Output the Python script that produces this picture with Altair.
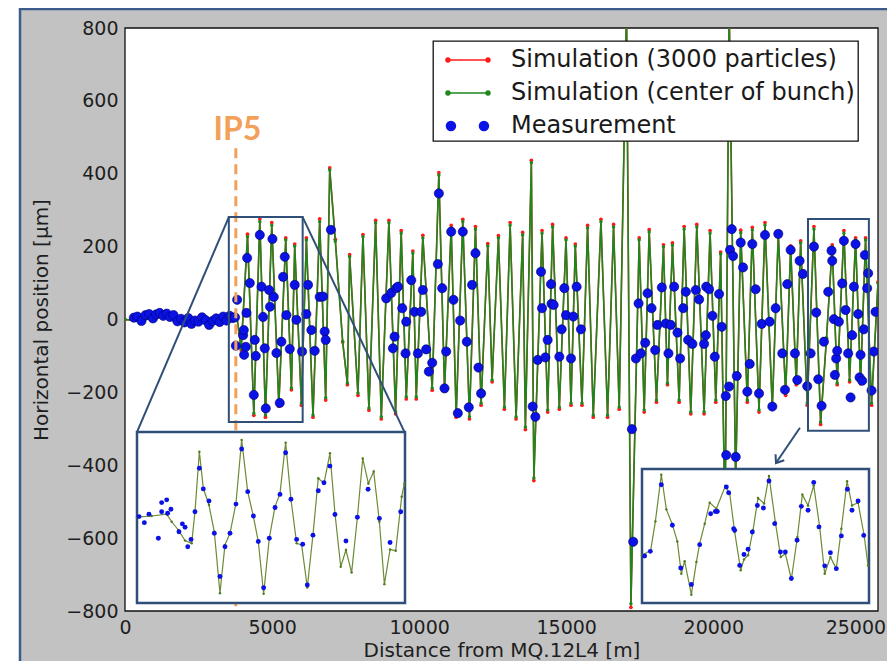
import altair as alt
import pandas as pd

SERIES = ["Simulation (3000 particles)", "Simulation (center of bunch)", "Measurement"]

# ---------------- main plot data ----------------
sim_x = [0, 500, 1000, 1500, 2000, 2500, 3000, 3400, 3800,
         3950, 4165, 4380, 4583, 4775, 4990, 5230, 5465, 5658, 5770,
         5997, 6166, 6392, 6619, 6823, 6960, 7150, 7400, 7560, 7637,
         7920, 8090, 8293, 8520, 8713, 8972, 9199, 9390, 9562, 9786,
         9902, 10126, 10444, 10670, 10863, 11090, 11259, 11484, 11711, 11915,
         12107, 12333, 12481, 12695, 12899, 13093, 13296, 13520, 13612, 13815,
         13900, 14178, 14370, 14538, 14766, 14993, 15163, 15309, 15536, 15727,
         15920, 16181, 16406, 16610, 16802, 17050, 17200, 17481, 17651, 17821,
         18068, 18307, 18442, 18612, 18839, 19009, 19236, 19440, 19688, 19891,
         20085, 20250, 20400, 20540, 20760, 20933, 21157, 21327, 21555, 21758,
         22007, 22210, 22461, 22630, 22821, 22970, 23194, 23422, 23649, 23850,
         24044, 24213, 24440, 24634, 24837, 25007, 25177, 25380, 25600]
sim_center_y = [0, -4, 5, 8, 3, -3, 2, -2, 10,
                -80, 227, -257, 268, -262, 259, -232, 218, -188, 201,
                -229, 218, -262, 268, -215, 410, 215, -60, -174, 172,
                -202, 227, -243, 265, -267, 265, -253, 237, -212, 182,
                -212, 224, -188, 396, -189, 251, -262, 268, -267, 248,
                -229, 202, -166, 224, -240, 259, -267, 232, -295, 430,
                -435, 237, -248, 254, -240, 218, -229, 201, -229, 251,
                -262, 268, -262, 254, -240, 850, -780, 218, -248, 240,
                -221, 199, -174, 204, -221, 248, -253, 254, -253, 237,
                -221, 180, -560, 850, -440, 238, -221, 246, -248, 259,
                -240, 232, -202, 196, -174, 210, -229, 248, -281, -50,
                199, -174, 237, -166, 218, -171, 218, -229, 100]
sim_3000_y = [0, -4, 5, 8, 3, -3, 2, -2, 10,
              -84, 234, -263, 276, -268, 266, -238, 224, -193, 207,
              -235, 224, -268, 276, -221, 416, 220, -62, -179, 178,
              -208, 233, -249, 272, -273, 272, -259, 244, -218, 188,
              -218, 231, -194, 403, -195, 258, -268, 275, -273, 255,
              -235, 208, -171, 230, -246, 266, -273, 239, -302, 437,
              -442, 244, -254, 261, -246, 224, -235, 207, -235, 258,
              -268, 275, -268, 261, -246, 860, -790, 224, -254, 247,
              -227, 205, -179, 210, -227, 255, -259, 261, -259, 244,
              -227, 185, -570, 860, -450, 245, -227, 253, -254, 266,
              -246, 239, -208, 202, -179, 216, -235, 255, -288, -52,
              205, -179, 244, -171, 224, -176, 224, -235, 103]

meas_x = [300, 420, 560, 700, 820, 950, 1060, 1180, 1300, 1420,
          1530, 1650, 1780, 1900, 2020, 2150, 2260, 2380, 2500, 2620,
          2740, 2860, 2980, 3100, 3220, 3340, 3450, 3560, 3660, 3740,
          3768, 3813, 4016, 4039, 4050, 4107, 4131, 4152, 4243, 4379,
          4413, 4447, 4583, 4640, 4695, 4752, 4786, 4899, 4930, 5013,
          5058, 5148, 5261, 5318, 5374, 5431, 5488, 5601, 5770, 5828,
          6019, 6166, 6222, 6336, 6450, 6619, 6732, 6789, 6823, 7000,
          8881, 9053, 9109, 9165, 9222, 9280, 9425, 9538, 9561, 9732,
          9844, 9957, 10071, 10126, 10240, 10330, 10444, 10636, 10670, 10783,
          10863, 10919, 11090, 11167, 11315, 11395, 11484, 11620, 11688, 11800,
          11915, 12016, 12107, 13860, 13951, 14030, 14144, 14178, 14291, 14369,
          14484, 14500, 14573, 14766, 14845, 14936, 14993, 15163, 15241, 15354,
          15502, 17234, 17278, 17370, 17460, 17539, 17686, 17766, 17900, 18024,
          18103, 18251, 18386, 18476, 18556, 18670, 18783, 18873, 18976, 19067,
          19144, 19291, 19406, 19518, 19688, 19746, 19760, 19858, 19971, 20051,
          20197, 20288, 20424, 20440, 20537, 20570, 20628, 20672, 20764, 20798,
          20933, 21011, 21157, 21239, 21327, 21440, 21555, 21647, 21758, 21918,
          22007, 22120, 22210, 22346, 22437, 22516, 22630, 22776, 22856, 22935,
          23048, 23194, 23309, 23422, 23500, 23569, 23682, 23761, 23908, 24020,
          24044, 24100, 24134, 24179, 24213, 24270, 24383, 24440, 24498, 24586,
          24668, 24722, 24780, 24837, 24926, 24973, 25007, 25062, 25119, 25153,
          25232, 25265, 25380, 25458, 25516]
meas_y = [5, 8, -4, 12, 15, 3, 14, 18, 10, 16,
          7, 12, -5, 2, -8, 4, -12, -3, -6, 6,
          -2, -15, -4, 3, -7, 8, -3, 10, 4, 6,
          -72, 54, -43, -29, -97, -75, 18, 169, 100, -207,
          -56, -100, 232, 90, 7, -79, -244, 81, 35, 221,
          62, -92, -229, -61, 117, 172, 12, -81, 95, -1,
          -88, 15, 95, -29, -86, 62, 63, -33, -56, 246,
          58, 73, -79, -47, 86, 90, 31, -93, -6, 108,
          21, -93, 21, 81, -82, -143, -119, 152, 346, 86,
          -189, -88, 241, 54, -257, -3, 241, -61, -241, 95,
          182, -132, -203, -239, -267, -111, 131, 31, -104, -56,
          97, 43, 40, -102, -27, 86, 12, -107, 8, 90,
          -27, -301, -610, -107, 44, -93, -64, 72, 31, -84,
          -15, 88, -11, -93, -15, 90, -36, -107, 31, 76,
          -56, -67, 81, 55, -67, -43, 90, 83, 10, -102,
          70, -20, -210, -372, -184, 191, 248, 174, -377, -155,
          211, 143, -198, -122, 207, 83, -203, -12, 232, -6,
          -239, 31, 235, -93, -193, 97, 191, -93, -166, 161,
          125, -183, -93, 200, 19, -164, -237, -61, 76, 189,
          161, 1, -152, -107, -86, -6, 99, 216, 26, -93,
          -214, -43, 90, 207, 15, -159, -97, -168, -27, 177,
          86, 127, -195, -88, 21]

x_ticks = [0, 5000, 10000, 15000, 20000, 25000]
y_ticks = [-800, -600, -400, -200, 0, 200, 400, 600, 800]

ip5_x = [3768]
ip5_top = [470]
ip5_bottom = [-800]
ip5_label = ["IP5"]
ip5_label_x = [3819]
ip5_label_y = [493]

# zoom boxes in the main plot and connectors to the insets (main data units)
box_x = [3530, 23220]
box_x2 = [6040, 25290]
box_y = [-281, -305]
box_y2 = [281, 276]
conn_x = [3530, 6040]
conn_y = [281, 281]
conn_x2 = [407, 9504]
conn_y2 = [-309, -309]
arrow_x = [22946]
arrow_y = [-297]
arrow_x2 = [22132]
arrow_y2 = [-394]

# ---------------- inset 1 ----------------
in1_domain_x = [3530, 6040]
in1_domain_y = [-281, 281]
in1_sim_x = [3530, 3667, 3808, 3855, 3917, 3980, 4042, 4073, 4114, 4151,
             4204, 4254, 4307, 4354, 4401, 4457, 4510, 4567, 4620, 4666,
             4716, 4769, 4823, 4869, 4922, 4972, 5025, 5072, 5125, 5178,
             5228, 5281, 5337, 5384, 5438, 5487, 5540, 5594, 5644, 5697,
             5747, 5800, 5847, 5900, 5953, 6009, 6034]
in1_sim_y = [1, 5, 11, -14, -41, -76, -85, 19, 216, 96,
             41, -47, -249, -90, -52, 47, 255, 85, 3, -79,
             -251, -68, 36, 79, 246, 60, -85, -90, -230, -57,
             129, 112, 211, 14, -162, -107, -181, 1, 194, 112,
             151, -14, -219, -105, -109, 68, 112]
in1_meas_x = [3549, 3599, 3642, 3730, 3761, 3808, 3761, 3817, 3848, 3923,
              3955, 3980, 4005, 4036, 4073, 4114, 4151, 4204, 4254, 4307,
              4354, 4401, 4457, 4510, 4567, 4620, 4666, 4716, 4769, 4823,
              4869, 4922, 4972, 5025, 5082, 5125, 5178, 5228, 5281, 5337,
              5384, 5487, 5594, 5694, 5800, 5900, 6000]
in1_meas_y = [3, -17, 11, -68, 49, 58, 19, 14, 27, -47,
              -21, -32, -96, -72, 19, 162, 94, 54, -52, -194,
              -96, -52, 44, 225, 85, 5, -79, -231, -68, 33,
              76, 213, 60, -72, -88, -222, -58, 88, 114, 169,
              10, -77, 1, 93, -3, -82, 19]

# ---------------- inset 2 ----------------
in2_domain_x = [23220, 25290]
in2_domain_y = [-305, 276]
in2_sim_x = [23220, 23299, 23342, 23396, 23442, 23494, 23542, 23579, 23609, 23670,
             23716, 23746, 23792, 23837, 23898, 23980, 24020, 24065, 24120, 24150,
             24187, 24232, 24278, 24333, 24378, 24436, 24485, 24527, 24582, 24637,
             24682, 24734, 24786, 24840, 24886, 24938, 24992, 25038, 25090, 25135,
             25190, 25245, 25281]
in2_sim_y = [-98, -77, 49, 251, 101, 39, -38, -178, -124, -269,
             -127, -48, 39, 130, 104, 202, 169, 3, -163, -116,
             -98, 10, 150, 126, 246, 46, -106, -91, -202, -19,
             165, 118, 205, 25, -178, -106, -156, 17, 223, 118,
             130, -9, -142]
in2_meas_x = [23244, 23296, 23396, 23497, 23573, 23670, 23746, 23846, 23889, 23907,
              23989, 24010, 24056, 24065, 24111, 24150, 24187, 24226, 24272, 24327,
              24378, 24430, 24482, 24527, 24582, 24634, 24673, 24734, 24786, 24834,
              24886, 24938, 24992, 25038, 25093, 25135, 25190, 25242]
in2_meas_y = [-101, -81, 208, 32, -153, -225, -52, 82, 92, 92,
              198, 173, 17, 10, -142, -95, -72, 3, 118, 107,
              224, 39, -84, -84, -199, -33, 114, 97, 218, 25,
              -144, -87, -156, -14, 188, 97, 137, -12]

# ---------------- styling ----------------
W, H = 753, 583
RED, GREEN, BLUE = "#ff1a1a", "#1d861d", "#0b12e6"
NAVY, ORANGE, OLIVE = "#2f4f78", "#f2a05a", "#6d8a35"
GRAY = "#c2c2c2"
FONT = "DejaVu Sans"

LINE_PATH = ("M-0.27,0L2.4,0"
             "M-0.4,0a0.13,0.13 0 1,0 0.26,0a0.13,0.13 0 1,0 -0.26,0"
             "M2.27,0a0.13,0.13 0 1,0 0.26,0a0.13,0.13 0 1,0 -0.26,0")
DOTS_PATH = ("M-0.37,0a0.3,0.3 0 1,0 0.6,0a0.3,0.3 0 1,0 -0.6,0"
             "M1.83,0a0.3,0.3 0 1,0 0.6,0a0.3,0.3 0 1,0 -0.6,0")
ARROW_PATH = "M-1,-0.75L0,0L-1,0.75"

x_scale = alt.Scale(domain=[0, 25600], nice=False, zero=False)
y_scale = alt.Scale(domain=[-800, 800], nice=False, zero=False)
x_axis = alt.Axis(title="Distance from MQ.12L4 [m]", values=x_ticks, format="d",
                  labelFlush=False, titlePadding=3, zindex=2,
                  labelOffset=alt.condition("datum.value == 25000", alt.value(-5), alt.value(0)))
y_axis = alt.Axis(title="Horizontal position [μm]", values=y_ticks, format="d",
                  labelFlush=False, titlePadding=14, zindex=2)


def ex(f):
    return alt.X(f"{f}:Q", scale=x_scale, axis=x_axis)


def ey(f):
    return alt.Y(f"{f}:Q", scale=y_scale, axis=y_axis)


one = pd.DataFrame({"k": [0]})
sim_df = pd.DataFrame({"x": sim_x, "center": sim_center_y, "p3000": sim_3000_y})
meas_df = pd.DataFrame({"x": meas_x, "y": meas_y})
ip5_df = pd.DataFrame({"x": ip5_x, "y": ip5_top, "y2": ip5_bottom})
ip5_txt = pd.DataFrame({"x": ip5_label_x, "y": ip5_label_y, "t": ip5_label})
box_df = pd.DataFrame({"x": box_x, "x2": box_x2, "y": box_y, "y2": box_y2})
conn_df = pd.DataFrame({"x": conn_x, "y": conn_y, "x2": conn_x2, "y2": conn_y2})
arrow_df = pd.DataFrame({"x": arrow_x, "y": arrow_y, "x2": arrow_x2, "y2": arrow_y2})
leg_df = pd.DataFrame({"series": SERIES, "x": [-5000] * 3, "y": [0] * 3})

# white page strip left of the framed figure, and the figure's blue frame line
left_strip = alt.Chart(one).mark_rect(fill="white").encode(
    x=alt.value(-120), x2=alt.value(-106), y=alt.value(-25), y2=alt.value(H + 60))
frame = alt.Chart(one).mark_rect(fillOpacity=0, stroke="#3b5c8c", strokeWidth=2.5).encode(
    x=alt.value(-105), x2=alt.value(W + 60), y=alt.value(-19), y2=alt.value(H + 90))
plot_bg = alt.Chart(one).mark_rect(fill="white", stroke="#111111", strokeWidth=1.3).encode(
    x=alt.value(0), x2=alt.value(W), y=alt.value(0), y2=alt.value(H))

red_line = alt.Chart(sim_df).mark_line(color=RED, strokeWidth=1.5, clip=True).encode(
    x=ex("x"), y=ey("p3000"))
red_pts = alt.Chart(sim_df).mark_circle(color=RED, size=14, opacity=1, clip=True).encode(
    x=ex("x"), y=ey("p3000"))
green_line = alt.Chart(sim_df).mark_line(color=GREEN, strokeWidth=1.6, clip=True).encode(
    x=ex("x"), y=ey("center"))
green_pts = alt.Chart(sim_df).mark_circle(color=GREEN, size=12, opacity=1, clip=True).encode(
    x=ex("x"), y=ey("center"))
meas_pts = alt.Chart(meas_df).mark_circle(color=BLUE, size=85, opacity=1, stroke="#00006a",
                                          strokeWidth=0.6, clip=True).encode(
    x=ex("x"), y=ey("y"))

ip5_rule = alt.Chart(ip5_df).mark_rule(color=ORANGE, strokeWidth=3, strokeDash=[10, 6]).encode(
    x=ex("x"), y=ey("y"), y2="y2:Q")
ip5_text = alt.Chart(ip5_txt).mark_text(font="Lato", fontWeight="bold", fontSize=32, color=ORANGE,
                                        align="center", baseline="alphabetic").encode(
    x=ex("x"), y=ey("y"), text="t:N")

boxes = alt.Chart(box_df).mark_rect(fillOpacity=0, stroke=NAVY, strokeWidth=2).encode(
    x=ex("x"), x2="x2:Q", y=ey("y"), y2="y2:Q")
conns = alt.Chart(conn_df).mark_rule(color=NAVY, strokeWidth=2).encode(
    x=ex("x"), y=ey("y"), x2="x2:Q", y2="y2:Q")
arrow_line = alt.Chart(arrow_df).mark_rule(color=NAVY, strokeWidth=2).encode(
    x=ex("x"), y=ey("y"), x2="x2:Q", y2="y2:Q")
arrow_head = alt.Chart(arrow_df).mark_point(shape=ARROW_PATH, angle=124, size=196, filled=False,
                                            color=NAVY, strokeWidth=2, opacity=1).encode(
    x=ex("x2"), y=ey("y2"))

legend = alt.Legend(title=None, orient="none", legendX=308, legendY=13, padding=3,
                    strokeColor="#111111", fillColor="white",
                    symbolSize=900, symbolStrokeWidth=1.5, symbolOpacity=1,
                    labelFontSize=24, labelFont=FONT, labelColor="#1a1a1a",
                    labelOffset=43, rowPadding=5, labelLimit=600)
col_scale = alt.Scale(domain=SERIES, range=[RED, GREEN, BLUE])
shape_scale = alt.Scale(domain=SERIES, range=[LINE_PATH, LINE_PATH, DOTS_PATH])
leg_layer = alt.Chart(leg_df).mark_point(filled=True, clip=True, opacity=1).encode(
    x=ex("x"), y=ey("y"),
    fill=alt.Fill("series:N", scale=col_scale, legend=legend),
    stroke=alt.Stroke("series:N", scale=col_scale, legend=legend),
    shape=alt.Shape("series:N", scale=shape_scale, legend=legend))

main = alt.layer(left_strip, frame, plot_bg, red_line, red_pts, green_line, green_pts, meas_pts,
                 ip5_rule, ip5_text, boxes, conns, arrow_line, arrow_head, leg_layer)


def inset(dx, dy, rx, ry, sx, sy, mx, my):
    xs = alt.Scale(domain=dx, range=rx, nice=False, zero=False)
    ys = alt.Scale(domain=dy, range=ry, nice=False, zero=False)
    bg_df = pd.DataFrame({"x": [dx[0]], "x2": [dx[1]], "y": [dy[0]], "y2": [dy[1]]})
    s_df = pd.DataFrame({"x": sx, "y": sy})
    m_df = pd.DataFrame({"x": mx, "y": my})
    bg = alt.Chart(bg_df).mark_rect(fill="white", stroke=NAVY, strokeWidth=2.5).encode(
        x=alt.X("x:Q", scale=xs, axis=None), x2="x2:Q",
        y=alt.Y("y:Q", scale=ys, axis=None), y2="y2:Q")
    ln = alt.Chart(s_df).mark_line(color=OLIVE, strokeWidth=1.2).encode(
        x=alt.X("x:Q", scale=xs, axis=None), y=alt.Y("y:Q", scale=ys, axis=None))
    pt = alt.Chart(s_df).mark_circle(color="#4f7a1e", size=6, opacity=1).encode(
        x=alt.X("x:Q", scale=xs, axis=None), y=alt.Y("y:Q", scale=ys, axis=None))
    ms = alt.Chart(m_df).mark_circle(color=BLUE, size=24, opacity=1).encode(
        x=alt.X("x:Q", scale=xs, axis=None), y=alt.Y("y:Q", scale=ys, axis=None))
    return alt.layer(bg, ln, pt, ms)


inset1 = inset(in1_domain_x, in1_domain_y, [12, 280], [575, 404],
               in1_sim_x, in1_sim_y, in1_meas_x, in1_meas_y)
inset2 = inset(in2_domain_x, in2_domain_y, [517, 744], [575, 441],
               in2_sim_x, in2_sim_y, in2_meas_x, in2_meas_y)

chart = alt.layer(main, inset1, inset2).resolve_scale(
    x="independent", y="independent"
).properties(
    width=W, height=H,
    autosize=alt.AutoSizeParams(type="none"),
    padding={"left": 117, "top": 20, "right": 9, "bottom": 50},
    background=GRAY,
).configure(font=FONT).configure_view(stroke=None).configure_axis(
    labelFontSize=19, titleFontSize=20, labelFont=FONT, titleFont=FONT,
    titleFontWeight="normal", labelColor="#1e1e1e", titleColor="#1e1e1e",
    ticks=False, domain=False, grid=False, labelPadding=7
).configure_legend(strokeWidth=1.3)

chart.save("out.html", embed_options={"renderer": "svg", "actions": False})
